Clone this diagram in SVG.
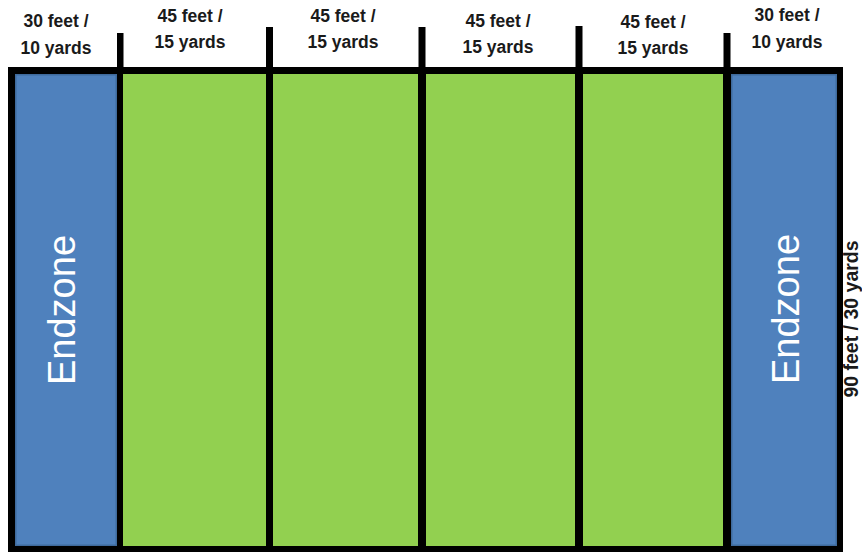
<svg xmlns="http://www.w3.org/2000/svg" width="862" height="552" viewBox="0 0 862 552">
  <style>
    .lbl { font-family: "Liberation Sans", Arial, sans-serif; font-weight: bold; font-size: 17.5px; fill: #1a1a1a; text-anchor: middle; }
    .side { font-family: "Liberation Sans", Arial, sans-serif; font-weight: bold; font-size: 19.5px; fill: #1a1a1a; text-anchor: middle; }
    .ez { font-family: "Liberation Sans", Arial, sans-serif; font-size: 38px; fill: #ffffff; text-anchor: middle; }
    .blue { fill: #4F81BD; stroke: #3F6A9C; stroke-width: 1.5; }
    .green { fill: #92D050; }
    .line { fill: #000000; }
  </style>
  <rect width="862" height="552" fill="#ffffff"/>
  <g id="field">
    <rect class="line" x="8" y="67" width="835" height="485"/>
  </g>
  <g id="endzone-left">
    <rect class="blue" x="15.75" y="74.75" width="100.5" height="470.5"/>
    <text class="ez" transform="translate(75,310) rotate(-90)">Endzone</text>
  </g>
  <g id="zone-1">
    <rect class="green" x="123" y="74" width="143" height="472"/>
  </g>
  <g id="zone-2">
    <rect class="green" x="273" y="74" width="145" height="472"/>
  </g>
  <g id="zone-3">
    <rect class="green" x="426" y="74" width="149" height="472"/>
  </g>
  <g id="zone-4">
    <rect class="green" x="583" y="74" width="140" height="472"/>
  </g>
  <g id="endzone-right">
    <rect class="blue" x="731.75" y="74.75" width="104.5" height="470.5"/>
    <text class="ez" transform="translate(799,309) rotate(-90)">Endzone</text>
  </g>
  <g id="dividers">
    <rect class="line" x="117" y="33" width="6.5" height="36"/>
    <rect class="line" x="266" y="27" width="7" height="42"/>
    <rect class="line" x="418.5" y="27" width="7" height="42"/>
    <rect class="line" x="575.5" y="26" width="7" height="43"/>
    <rect class="line" x="723.5" y="33" width="7" height="36"/>
  </g>
  <g id="labels">
    <text class="lbl" x="56" y="27">30 feet /</text>
    <text class="lbl" x="56" y="54">10 yards</text>
    <text class="lbl" x="190" y="22">45 feet /</text>
    <text class="lbl" x="190" y="48">15 yards</text>
    <text class="lbl" x="343" y="22">45 feet /</text>
    <text class="lbl" x="343" y="48">15 yards</text>
    <text class="lbl" x="498" y="27">45 feet /</text>
    <text class="lbl" x="498" y="53">15 yards</text>
    <text class="lbl" x="653" y="28">45 feet /</text>
    <text class="lbl" x="653" y="54">15 yards</text>
    <text class="lbl" x="787" y="21">30 feet /</text>
    <text class="lbl" x="787" y="48">10 yards</text>
    <text class="side" transform="translate(858,319) rotate(-90)">90 feet / 30 yards</text>
  </g>
</svg>
